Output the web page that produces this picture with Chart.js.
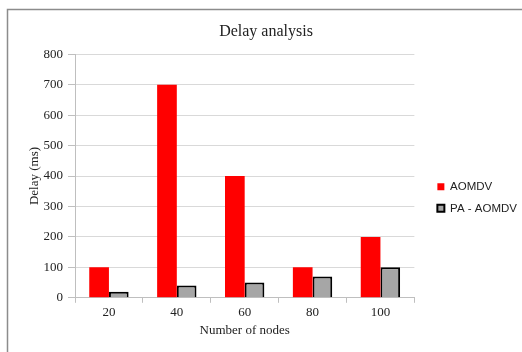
<!DOCTYPE html>
<html>
<head>
<meta charset="utf-8">
<script src="https://cdn.jsdelivr.net/npm/chart.js@4.4.0/dist/chart.umd.min.js"></script>
<style>
  html, body { margin: 0; padding: 0; background: #fff; }
  #wrap { position: absolute; left: 0; top: 0; width: 522px; height: 352px; }
</style>
</head>
<body>
<div id="wrap"><canvas id="Delay_Chart"></canvas></div>
<script>
let nodes = ["20", "40", "60", "80", "100"];
let aomdv = [100, 700, 400, 100, 200];
let paAomdv = [20, 40, 50, 70, 100];
let yTicks = [0, 100, 200, 300, 400, 500, 600, 700, 800];

// grey frame round the chart like the office export
let frame = {
    id: "frame",
    beforeDraw: (chart) => {
        let ctx = chart.ctx;
        ctx.save();
        ctx.fillStyle = "#fff";
        ctx.fillRect(0, 0, chart.width, chart.height);
        ctx.strokeStyle = "#8c8c8c";
        ctx.lineWidth = 1.5;
        ctx.beginPath();
        ctx.moveTo(7.5, chart.height);
        ctx.lineTo(7.5, 9.5);
        ctx.lineTo(chart.width, 9.5);
        ctx.stroke();
        ctx.restore();
    }
};

// push legend a bit away from the plot and re-centre the title on the whole frame
let nudge = {
    id: "nudge",
    afterLayout: (chart) => {
        let lg = chart.legend;
        lg.left += 13;
        lg.right += 13;
        let tb = chart.titleBlock;
        tb.left += 5;
        tb.right += 5;
    }
};

let serif = "'Liberation Serif', 'Times New Roman', serif";

new Chart("Delay_Chart", {
    type: "bar",
    data: {
        labels: nodes,
        datasets: [{
            label: "AOMDV",
            data: aomdv,
            backgroundColor: "#ff0000",
            borderWidth: 0
        }, {
            label: "PA - AOMDV",
            data: paAomdv,
            backgroundColor: "#a6a6a6",
            borderColor: "#000",
            borderWidth: 2
        }]
    },
    options: {
        responsive: true,
        maintainAspectRatio: false,
        animation: false,
        layout: { padding: { left: 8, right: 8, top: 18, bottom: 14 } },
        datasets: { bar: { categoryPercentage: 0.58, barPercentage: 1 } },
        plugins: {
            title: {
                display: true,
                text: "Delay analysis",
                color: "#222",
                font: { family: serif, size: 16, weight: "normal" },
                padding: { top: 4, bottom: 13 }
            },
            legend: {
                position: "right",
                title: { display: true, text: "", padding: { top: 0, bottom: 38 }, font: { size: 1 } },
                labels: {
                    boxWidth: 7,
                    boxHeight: 7,
                    padding: 10,
                    color: "#222",
                    font: { family: "'Liberation Sans', Arial, sans-serif", size: 11.5 }
                }
            },
            tooltip: { enabled: false }
        },
        scales: {
            x: {
                grid: { drawOnChartArea: false, tickLength: 5, color: "#bfbfbf" },
                border: { color: "#bfbfbf" },
                ticks: { color: "#222", font: { family: serif, size: 13 }, padding: 2 },
                title: {
                    display: true,
                    text: "Number of nodes",
                    color: "#222",
                    font: { family: serif, size: 13 },
                    padding: { top: 0, bottom: 0 }
                }
            },
            y: {
                min: 0,
                max: 800,
                afterBuildTicks: (scale) => { scale.ticks = yTicks.map(v => ({ value: v })); },
                afterFit: (scale) => { scale.width = 67; },
                grid: { color: "#d9d9d9", tickLength: 7, tickColor: "#bfbfbf" },
                border: { color: "#bfbfbf" },
                ticks: { color: "#222", font: { family: serif, size: 13 }, padding: 5 },
                title: {
                    display: true,
                    text: "Delay (ms)",
                    color: "#222",
                    font: { family: serif, size: 13 },
                    padding: { top: 19, bottom: 4 }
                }
            }
        }
    },
    plugins: [frame, nudge]
});
</script>
</body>
</html>
